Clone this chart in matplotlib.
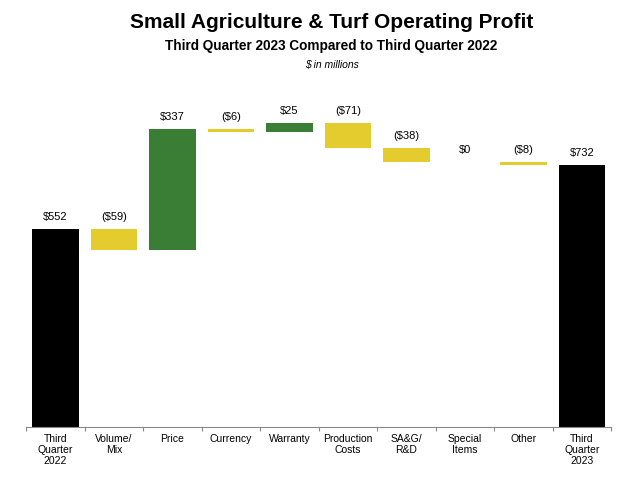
#!/usr/bin/env python3
"""
Operating profit bridge (waterfall) chart for Small Agriculture & Turf.
"""

import numpy as np
import matplotlib
matplotlib.use("Agg")
import matplotlib.pyplot as plt

# Chart data
categories = ["Third\nQuarter\n2022", "Volume/\nMix", "Price", "Currency", "Warranty",
              "Production\nCosts", "SA&G/\nR&D", "Special\nItems", "Other",
              "Third\nQuarter\n2023"]
changes = [552, -59, 337, -6, 25, -71, -38, 0, -8, 732]
value_labels = ["$552", "($59)", "$337", "($6)", "$25", "($71)", "($38)", "$0", "($8)", "$732"]

# Colours
TOTAL_COLOR = "#000000"
UP_COLOR = "#3A7D34"
DOWN_COLOR = "#E5CC2E"

plt.rcParams["font.family"] = ["Liberation Sans", "DejaVu Sans"]


def main():
    fig = plt.figure(figsize=(6.4, 4.87), dpi=100)
    ax = fig.add_axes([0.041, 0.1232, 0.914, 0.692])

    n = len(categories)
    x = np.arange(n)

    # Work out bar bottoms / heights for the waterfall
    bottoms, heights, colors, tops = [], [], [], []
    running = 0
    for i, delta in enumerate(changes):
        if i == 0 or i == n - 1:
            bottoms.append(0)
            heights.append(delta)
            colors.append(TOTAL_COLOR)
            tops.append(delta)
            running = delta
        else:
            start = running
            running = running + delta
            bottoms.append(min(start, running))
            heights.append(abs(delta))
            colors.append(UP_COLOR if delta > 0 else DOWN_COLOR)
            tops.append(max(start, running))

    ax.bar(x, heights, bottom=bottoms, width=0.8, color=colors, edgecolor="none")

    # Value labels above each bar
    for xi, top, lab in zip(x, tops, value_labels):
        ax.annotate(lab, (xi, top), xytext=(0, 5), textcoords="offset points",
                    ha="center", va="bottom", fontsize=8)

    ax.set_xlim(-0.5, n - 0.5)
    ax.set_ylim(0, 940)

    # Only the bottom axis is shown
    for side in ["top", "right", "left"]:
        ax.spines[side].set_visible(False)
    ax.spines["bottom"].set_color("#888888")
    ax.spines["bottom"].set_linewidth(0.8)
    ax.set_yticks([])

    ax.set_xticks(x)
    ax.set_xticklabels(categories, fontsize=7.5, linespacing=1.1)
    ax.tick_params(axis="x", which="major", length=0, pad=5)
    ax.set_xticks(np.arange(n + 1) - 0.5, minor=True)
    ax.tick_params(axis="x", which="minor", length=3, color="#888888", width=0.8)

    # Titles
    fig.text(0.518, 0.953, "Small Agriculture & Turf Operating Profit",
             ha="center", va="center", fontsize=15, fontweight="bold")
    fig.text(0.518, 0.905, "Third Quarter 2023 Compared to Third Quarter 2022",
             ha="center", va="center", fontsize=9.8, fontweight="bold")
    fig.text(0.518, 0.866, "$ in millions", ha="center", va="center",
             fontsize=7.5, style="italic")

    fig.savefig("out.png", dpi=100)


if __name__ == "__main__":
    main()
